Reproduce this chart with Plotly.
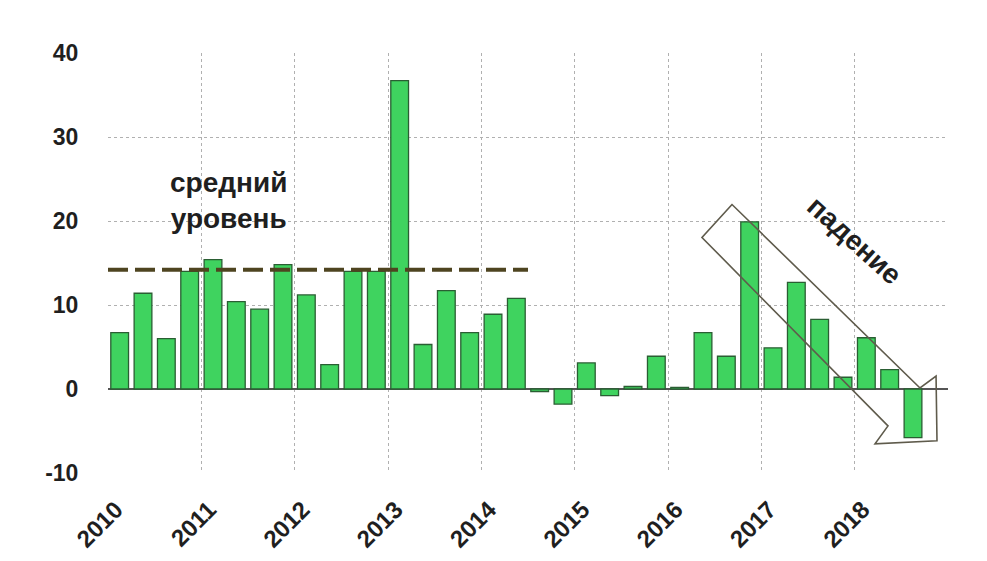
import plotly.graph_objects as go

# квартальные данные 2010 Q1 - 2018 Q3
quarters = [2010 + 0.125 + 0.25 * i for i in range(35)]
values = [6.7, 11.4, 6.0, 14.0,
          15.4, 10.4, 9.5, 14.8,
          11.2, 2.9, 14.0, 14.0,
          36.7, 5.3, 11.7, 6.7,
          8.9, 10.8, -0.3, -1.8,
          3.1, -0.8, 0.3, 3.9,
          0.2, 6.7, 3.9, 19.9,
          4.9, 12.7, 8.3, 1.4,
          6.1, 2.3, -5.8]

years = list(range(2010, 2020))
year_labels = [str(y) for y in range(2010, 2019)] + [""]
y_ticks = [-10, 0, 10, 20, 30, 40]
y_labels = ["-10", "0", "10", "20", "30", "40"]

avg_level = 14.2
avg_span = [2010, 2014.5]

# контур стрелки "падение" (год, значение)
arrow_x = [2016.686, 2016.364, 2018.357, 2018.218, 2018.882, 2018.872, 2018.700]
arrow_y = [21.96, 18.04, -4.39, -6.53, -6.17, 1.54, 0.12]

fig = go.Figure()

fig.add_trace(go.Bar(x=quarters, y=values, width=0.19,
                     marker=dict(color="#3fd35f",
                                 line=dict(color="#2a5e33", width=1.3)),
                     showlegend=False))

fig.add_trace(go.Scatter(x=avg_span, y=[avg_level, avg_level], mode="lines",
                         line=dict(color="#4e4420", width=4, dash="20px,7px"),
                         showlegend=False))

path = "M " + " L ".join(f"{x},{y}" for x, y in zip(arrow_x, arrow_y)) + " Z"
fig.add_shape(type="path", path=path, xref="x", yref="y",
              line=dict(color="#5f5b4c", width=1.6), fillcolor="rgba(0,0,0,0)")

fig.add_annotation(x=2011.29, y=22.5, text="<b>средний<br>уровень</b>", showarrow=False,
                   font=dict(size=28, color="#1f1f1f"))
fig.add_annotation(x=2018.0, y=17.7, text="<b>падение</b>", showarrow=False,
                   textangle=42, font=dict(size=28, color="#1f1f1f"))

fig.update_xaxes(range=[2010, 2019], tickvals=years, ticktext=year_labels,
                 tickangle=-45, showgrid=True, gridcolor="#b0b0b0", griddash="dot",
                 gridwidth=1.2, zeroline=False, showline=False,
                 ticks="outside", ticklen=12, tickcolor="rgba(0,0,0,0)",
                 ticklabelshift=8,
                 tickfont=dict(size=24, color="#1f1f1f", weight="bold"))
fig.update_yaxes(range=[-10, 40], tickvals=y_ticks, ticktext=y_labels,
                 showgrid=True, gridcolor="#b0b0b0", griddash="dot", gridwidth=1.2,
                 zeroline=True, zerolinecolor="#555555", zerolinewidth=1.5,
                 showline=False, ticks="outside", ticklen=24,
                 tickcolor="rgba(0,0,0,0)",
                 tickfont=dict(size=23, color="#1f1f1f", weight="bold"))

fig.update_layout(width=987, height=561, plot_bgcolor="white", paper_bgcolor="white",
                  font=dict(family="Liberation Sans, Arial, sans-serif"),
                  bargap=0.2, margin=dict(l=100, r=47, t=45, b=96))

fig.write_html("out.html")
